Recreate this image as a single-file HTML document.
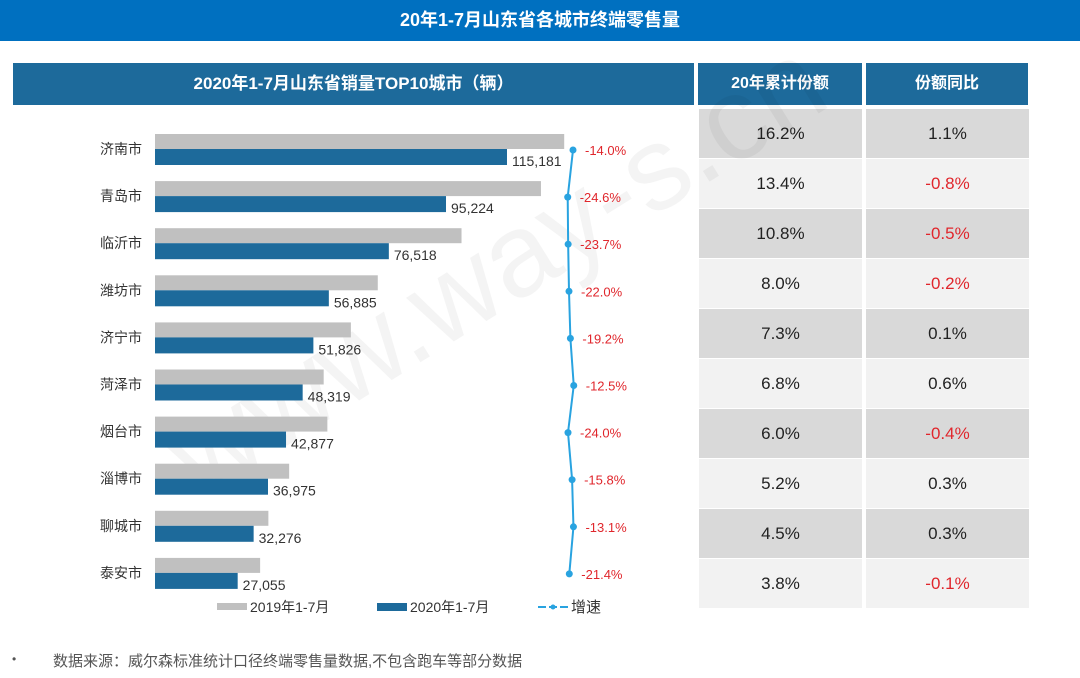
<!DOCTYPE html>
<html><head><meta charset="utf-8"><style>
body{margin:0;width:1080px;height:678px;background:#fff;overflow:hidden;font-family:"Liberation Sans","Noto Sans CJK SC",sans-serif;position:relative}
.abs{position:absolute}
#title{left:0;top:0;width:1080px;height:41px;background:#0070c0;color:#fff;font-weight:bold;font-size:18px;line-height:41px;text-align:center}
.hdr{background:#1d6a9b;color:#fff;font-weight:bold;font-size:16px;text-align:center;line-height:42px;top:63px;height:42px}
.cell{font-size:17px;text-align:center;line-height:49px;height:49px;color:#222}
.neg{color:#e0262c}
</style></head><body>
<div id="title" class="abs">20年1-7月山东省各城市终端零售量</div>
<div class="abs hdr" style="left:13px;width:681px;font-size:17px">2020年1-7月山东省销量TOP10城市（辆）</div>
<div class="abs hdr" style="left:698px;width:164px">20年累计份额</div>
<div class="abs hdr" style="left:866px;width:162px">份额同比</div>
<div id="table"></div>
<svg class="abs" style="left:0;top:0" width="1080" height="678" id="chart">
<text x="200" y="500" font-size="118" fill="#000" fill-opacity="0.045" transform="rotate(-32 200 500)" font-family="Liberation Sans">www.way-s.cn</text>
</svg>
<div class="abs" style="left:12px;top:652px;font-size:12px;color:#555">•</div>
<div class="abs" style="left:53px;top:650px;font-size:15px;color:#555">数据来源：威尔森标准统计口径终端零售量数据,不包含跑车等部分数据</div>
<script>
const cities=["济南市","青岛市","临沂市","潍坊市","济宁市","菏泽市","烟台市","淄博市","聊城市","泰安市"];
const sales2020=[115181,95224,76518,56885,51826,48319,42877,36975,32276,27055];
const sales2019=[133900,126300,100300,72900,64100,55200,56400,43900,37100,34400];
const growth=[-14.0,-24.6,-23.7,-22.0,-19.2,-12.5,-24.0,-15.8,-13.1,-21.4];
const shares=["16.2%","13.4%","10.8%","8.0%","7.3%","6.8%","6.0%","5.2%","4.5%","3.8%"];
const shareYoy=[1.1,-0.8,-0.5,-0.2,0.1,0.6,-0.4,0.3,0.3,-0.1];
const NS="http://www.w3.org/2000/svg";
const svg=document.getElementById('chart');
const xs=v=>155+v*0.003056;
const ys=i=>149+i*47.1;
const xg=g=>580+g*0.5;
function mk(t,a,p){const e=document.createElementNS(NS,t);for(const k in a)e.setAttribute(k,a[k]);(p||svg).appendChild(e);return e;}
function txt(x,y,s,a){const e=mk('text',Object.assign({x:x,y:y,'font-family':'Liberation Sans, Noto Sans CJK SC, sans-serif','font-size':13},a));e.textContent=s;return e;}
let pts=[];
cities.forEach((c,i)=>{
 const y=ys(i);
 let e=txt(142,y+5,c,{'text-anchor':'end',fill:'#333','font-size':14});
 
 e=mk('rect',{x:155,y:y-15,width:xs(sales2019[i])-155,height:15,fill:'#c0c0c0'});
 
 e=mk('rect',{x:155,y:y,width:xs(sales2020[i])-155,height:16,fill:'#1d6a9b'});
 
 e=txt(xs(sales2020[i])+5,y+17,sales2020[i].toLocaleString('en-US'),{fill:'#333','font-size':14});
 
 pts.push([xg(growth[i]),y+1]);
});
let l=mk('polyline',{points:pts.map(p=>p.join(',')).join(' '),fill:'none',stroke:'#29a3e0','stroke-width':2});

pts.forEach((p,i)=>{
 let e=mk('circle',{cx:p[0],cy:p[1],r:3.5,fill:'#29a3e0'});
 
 e=txt(p[0]+12,p[1]+5,growth[i].toFixed(1)+'%',{fill:'#e0262c'});
 
});
let g=mk('rect',{x:217,y:603,width:30,height:7,fill:'#c0c0c0'});
g=txt(250,612,'2019年1-7月',{fill:'#333','font-size':14});
g=mk('rect',{x:377,y:603,width:30,height:8,fill:'#1d6a9b'});
g=txt(410,612,'2020年1-7月',{fill:'#333','font-size':14});
g=mk('line',{x1:538,y1:607,x2:568,y2:607,stroke:'#29a3e0','stroke-width':2,'stroke-dasharray':'8,3'});
g=mk('circle',{cx:553,cy:607,r:2.5,fill:'#29a3e0'});
g=txt(571,612,'增速',{fill:'#333','font-size':15});
const tb=document.getElementById('table');
shares.forEach((s,i)=>{
 const top=109+i*50, bg=i%2?'#f2f2f2':'#d9d9d9';
 let d=document.createElement('div');d.className='abs cell';
 d.style.cssText=`left:699px;top:${top}px;width:163px;background:${bg}`;d.textContent=s;
 
 
 tb.appendChild(d);
 d=document.createElement('div');d.className='abs cell'+(shareYoy[i]<0?' neg':'');
 d.style.cssText=`left:866px;top:${top}px;width:163px;background:${bg}`;d.textContent=shareYoy[i].toFixed(1)+'%';
 
 
 tb.appendChild(d);
});
</script>
</body></html>
